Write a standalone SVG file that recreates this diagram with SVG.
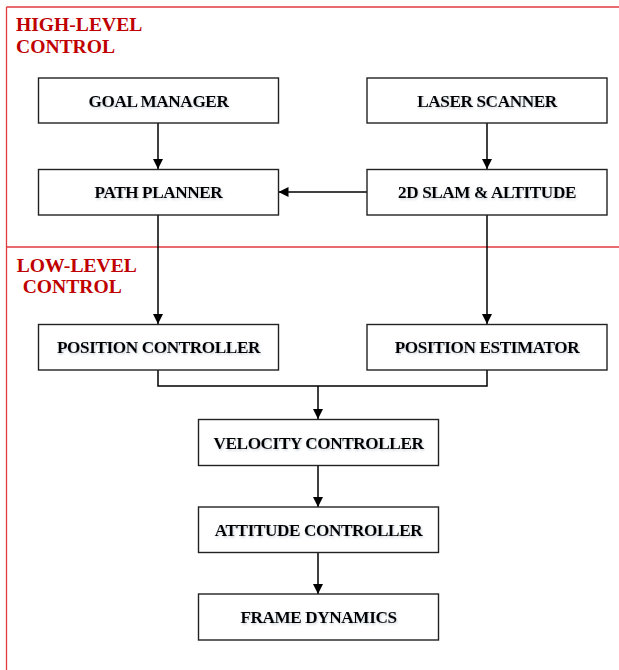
<svg xmlns="http://www.w3.org/2000/svg" width="619" height="670" viewBox="0 0 619 670">
<style>
.frame{stroke:#E03A3E;stroke-width:1.3;fill:none}
.zone{font-family:"Liberation Serif","Times New Roman",serif;font-weight:bold;font-size:19.6px;fill:#C00000}
.box{fill:#fff;stroke:#222;stroke-width:1.4}
.lbl{font-family:"Liberation Serif","Times New Roman",serif;font-weight:bold;font-size:17.2px;letter-spacing:-0.4px;fill:#000;stroke:#000;stroke-width:0.1;text-anchor:middle;filter:url(#sh)}
.wire{stroke:#000;stroke-width:1.5;fill:none}
</style>
<defs>
<marker id="ah" viewBox="0 0 10 10" refX="10" refY="5" markerWidth="10" markerHeight="10" markerUnits="userSpaceOnUse" orient="auto">
<path d="M0,0 L10,5 L0,10 z" fill="#000"/>
</marker>
<filter id="sh" x="-10%" y="-30%" width="120%" height="160%">
<feDropShadow dx="1" dy="1.5" stdDeviation="0.9" flood-color="#8899aa" flood-opacity="0.4"/>
</filter>
</defs>
<rect width="619" height="670" fill="#fff"/>
<g id="frame">
<line class="frame" x1="6.5" y1="7" x2="619" y2="7"/>
<line class="frame" x1="6.5" y1="7" x2="6.5" y2="670"/>
<line class="frame" x1="6.5" y1="247" x2="619" y2="247"/>
<text class="zone" x="16" y="30.7">HIGH-LEVEL</text>
<text class="zone" x="16" y="52.7">CONTROL</text>
<text class="zone" x="16.7" y="271.7">LOW-LEVEL</text>
<text class="zone" x="22.7" y="293.3">CONTROL</text>
</g>
<g id="connectors">
<line class="wire" x1="158" y1="123" x2="158" y2="169" marker-end="url(#ah)"/>
<line class="wire" x1="487" y1="123" x2="487" y2="169" marker-end="url(#ah)"/>
<line class="wire" x1="367" y1="192" x2="278.5" y2="192" marker-end="url(#ah)"/>
<line class="wire" x1="158" y1="215" x2="158" y2="324" marker-end="url(#ah)"/>
<line class="wire" x1="487" y1="215" x2="487" y2="324" marker-end="url(#ah)"/>
<polyline class="wire" points="158,370 158,386 487,386 487,370"/>
<line class="wire" x1="318" y1="386" x2="318" y2="419" marker-end="url(#ah)"/>
<line class="wire" x1="318" y1="465" x2="318" y2="507" marker-end="url(#ah)"/>
<line class="wire" x1="318" y1="552" x2="318" y2="594" marker-end="url(#ah)"/>
</g>
<g id="goal-manager"><rect class="box" x="38.5" y="78" width="240" height="45"/><text class="lbl" x="158.5" y="106.5">GOAL MANAGER</text></g>
<g id="laser-scanner"><rect class="box" x="367" y="78" width="240" height="45"/><text class="lbl" x="487" y="106.5">LASER SCANNER</text></g>
<g id="path-planner"><rect class="box" x="38.5" y="169.5" width="240" height="45.5"/><text class="lbl" x="158.5" y="198">PATH PLANNER</text></g>
<g id="slam-altitude"><rect class="box" x="367" y="169.5" width="240" height="45.5"/><text class="lbl" x="487" y="198">2D SLAM &amp; ALTITUDE</text></g>
<g id="position-controller"><rect class="box" x="38.5" y="324.5" width="240" height="45.5"/><text class="lbl" x="158.5" y="353">POSITION CONTROLLER</text></g>
<g id="position-estimator"><rect class="box" x="367" y="324.5" width="240" height="45.5"/><text class="lbl" x="487" y="353">POSITION ESTIMATOR</text></g>
<g id="velocity-controller"><rect class="box" x="198.5" y="419.5" width="240" height="46"/><text class="lbl" x="318.5" y="448.5">VELOCITY CONTROLLER</text></g>
<g id="attitude-controller"><rect class="box" x="198.5" y="507" width="240" height="45.5"/><text class="lbl" x="318.5" y="535.5">ATTITUDE CONTROLLER</text></g>
<g id="frame-dynamics"><rect class="box" x="198.5" y="594" width="240" height="46"/><text class="lbl" x="318.5" y="623">FRAME DYNAMICS</text></g>
</svg>
